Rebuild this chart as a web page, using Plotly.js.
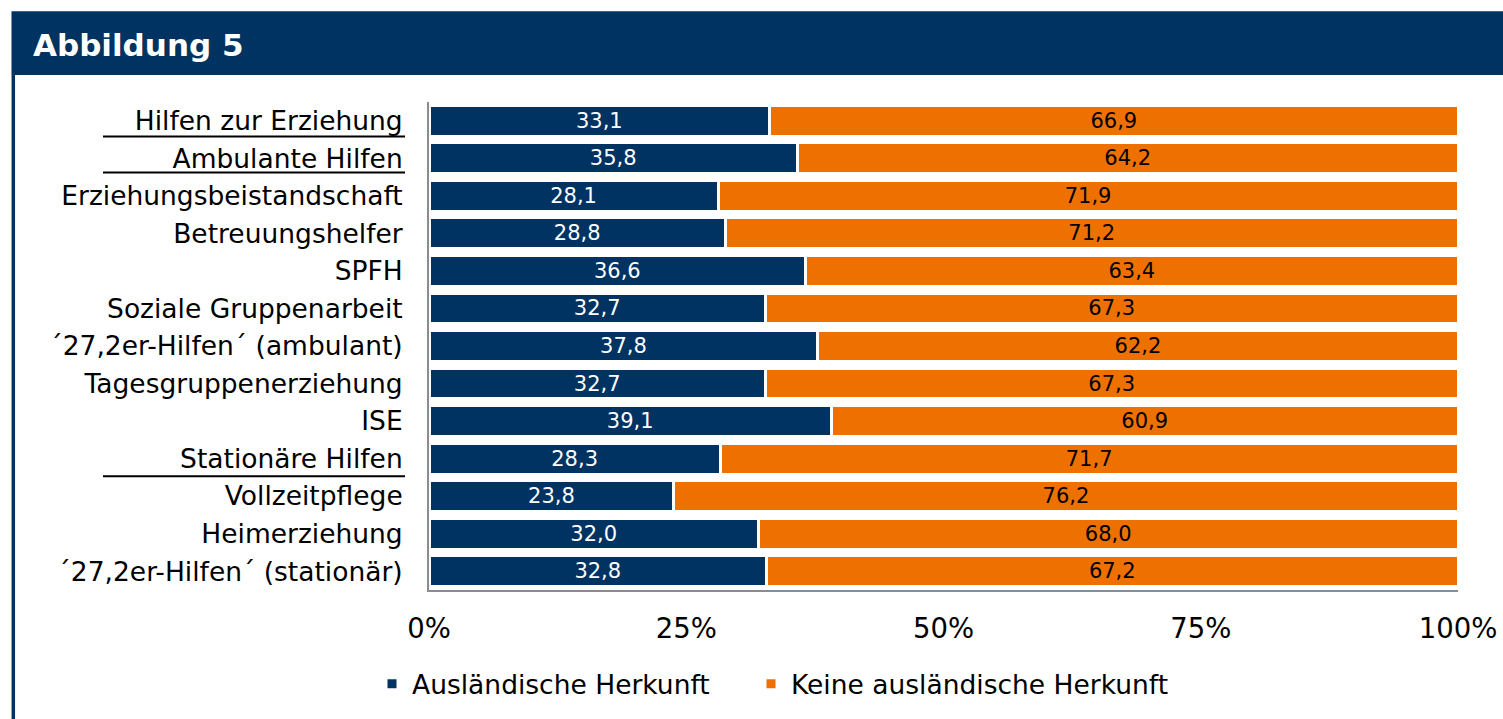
<!DOCTYPE html>
<html>
<head>
<meta charset="utf-8">
<script src="https://cdn.plot.ly/plotly-3.0.1.min.js"></script>
<style>
  html, body { margin: 0; padding: 0; background: #ffffff; }
  #chart { width: 1503px; height: 719px; }
</style>
</head>
<body>
<div id="chart"></div>
<script>
// ---- Data ----
const categories = [
  "Hilfen zur Erziehung",
  "Ambulante Hilfen",
  "Erziehungsbeistandschaft",
  "Betreuungshelfer",
  "SPFH",
  "Soziale Gruppenarbeit",
  "´27,2er-Hilfen´ (ambulant)",
  "Tagesgruppenerziehung",
  "ISE",
  "Stationäre Hilfen",
  "Vollzeitpflege",
  "Heimerziehung",
  "´27,2er-Hilfen´ (stationär)"
];
const auslaendisch = [33.1, 35.8, 28.1, 28.8, 36.6, 32.7, 37.8, 32.7, 39.1, 28.3, 23.8, 32.0, 32.8];
const keineAuslaendisch = [66.9, 64.2, 71.9, 71.2, 63.4, 67.3, 62.2, 67.3, 60.9, 71.7, 76.2, 68.0, 67.2];
const seriesNames = ["Ausländische Herkunft", "Keine ausländische Herkunft"];
const headerCategories = ["Hilfen zur Erziehung", "Ambulante Hilfen", "Stationäre Hilfen"];
const xTicks = [0, 25, 50, 75, 100];
const figureTitle = "Abbildung 5";

// ---- Styles ----
const NAVY = "#003361";
const ORANGE = "#EE7100";
const FONT = "DejaVu Sans, Verdana, sans-serif";

// Layout geometry (pixels)
const W = 1503, H = 719;
const M = { l: 429, r: 45, t: 102, b: 128 };
const PW = W - M.l - M.r, PH = H - M.t - M.b;
const px = x => (x - M.l) / PW;
const py = y => (H - M.b - y) / PH;

const traces = [
  {
    type: "bar", orientation: "h", name: seriesNames[0], legend: "legend",
    y: categories, x: auslaendisch,
    marker: { color: NAVY, line: { color: "#ffffff", width: 3 } },
    texttemplate: "%{x:.1f}", textposition: "inside", insidetextanchor: "middle",
    textangle: 0, constraintext: "none",
    textfont: { family: FONT, size: 21, color: "#ffffff" },
    hoverinfo: "skip"
  },
  {
    type: "bar", orientation: "h", name: seriesNames[1], legend: "legend2",
    y: categories, x: keineAuslaendisch,
    marker: { color: ORANGE, line: { color: "#ffffff", width: 3 } },
    texttemplate: "%{x:.1f}", textposition: "inside", insidetextanchor: "middle",
    textangle: 0, constraintext: "none",
    textfont: { family: FONT, size: 21, color: "#000000" },
    hoverinfo: "skip"
  }
];

const shapes = [
  // header band
  { type: "rect", xref: "paper", yref: "paper", layer: "above",
    x0: px(11.5), x1: px(1510), y0: py(75), y1: py(11),
    fillcolor: NAVY, line: { width: 0 } },
  // left frame line
  { type: "line", xref: "paper", yref: "paper", layer: "above",
    x0: px(13.3), x1: px(13.3), y0: py(75), y1: py(730),
    line: { color: NAVY, width: 3.5 } }
];
// underline group headers
const underlineOffset = { "Hilfen zur Erziehung": 0.42, "Ambulante Hilfen": 0.38, "Stationäre Hilfen": 0.47 };
headerCategories.forEach(c => {
  const i = categories.indexOf(c);
  shapes.push({
    type: "line", xref: "paper", yref: "y", layer: "above",
    x0: px(103), x1: px(405), y0: i + underlineOffset[c], y1: i + underlineOffset[c],
    line: { color: "#000000", width: 2 }
  });
});

const legendBase = {
  orientation: "h", xanchor: "left", y: py(684), yanchor: "middle",
  font: { family: FONT, size: 26.5, color: "#000000" },
  bgcolor: "rgba(0,0,0,0)", itemclick: false, itemdoubleclick: false
};

const layout = {
  width: W, height: H,
  margin: M,
  paper_bgcolor: "#ffffff", plot_bgcolor: "#ffffff",
  barmode: "stack", bargap: 0.18,
  separators: ",.",
  font: { family: FONT, color: "#000000" },
  showlegend: true,
  legend: Object.assign({}, legendBase, { x: px(372) }),
  legend2: Object.assign({}, legendBase, { x: px(751) }),
  xaxis: {
    range: [0, 100], tickvals: xTicks, ticktext: xTicks.map(v => v + "%"),
    showgrid: false, zeroline: false,
    showline: true, linecolor: "#8c8c8c", linewidth: 2,
    ticks: "", ticklabelstandoff: 13,
    tickfont: { family: FONT, size: 27.5, color: "#000000" },
    fixedrange: true
  },
  yaxis: {
    type: "category", autorange: "reversed",
    showgrid: false, zeroline: false,
    showline: true, linecolor: "#8c8c8c", linewidth: 2,
    ticks: "", ticklabelstandoff: 19,
    tickfont: { family: FONT, size: 26.5, color: "#000000" },
    fixedrange: true
  },
  shapes: shapes,
  annotations: [
    { text: "<b>" + figureTitle + "</b>", xref: "paper", yref: "paper",
      x: px(31), xanchor: "left", y: py(45), yanchor: "middle", showarrow: false,
      font: { family: FONT, size: 31, color: "#ffffff" } }
  ]
};

Plotly.newPlot("chart", traces, layout, { displayModeBar: false, staticPlot: true });
</script>
</body>
</html>
